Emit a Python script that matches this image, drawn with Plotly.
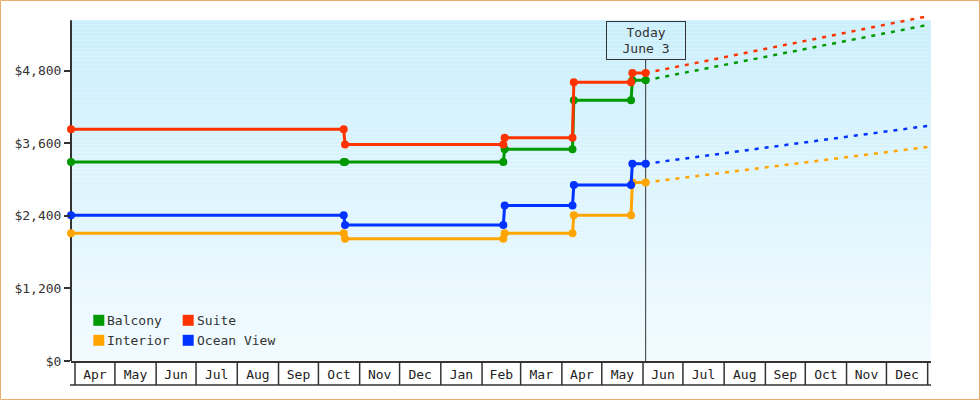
import plotly.graph_objects as go
import pandas as pd

# ---------------- data ----------------
names = ["Balcony", "Suite", "Interior", "Ocean View"]
colors = ["#009900", "#FF3300", "#FFA500", "#0033FF"]

dates = ["2023-03-29", "2023-10-20", "2023-10-21", "2024-02-17", "2024-02-18",
         "2024-04-09", "2024-04-10", "2024-05-23", "2024-05-24", "2024-06-03"]
balcony = [3290, 3290, 3290, 3290, 3500, 3500, 4310, 4310, 4640, 4640]
suite = [3830, 3830, 3580, 3580, 3690, 3690, 4610, 4610, 4760, 4760]
interior = [2110, 2110, 2020, 2020, 2110, 2110, 2410, 2410, 2950, 2950]
ocean_view = [2410, 2410, 2250, 2250, 2570, 2570, 2910, 2910, 3260, 3260]

proj_dates = ["2024-06-03", "2025-01-02"]
balcony_proj = [4640, 5560]
suite_proj = [4760, 5705]
interior_proj = [2950, 3540]
ocean_view_proj = [3260, 3890]

today = "2024-06-03"
today_label = "Today<br>June 3"
month_starts = [d.strftime("%Y-%m-%d") for d in pd.date_range("2023-04-01", "2025-01-01", freq="MS")]
y_ticks = [0, 1200, 2400, 3600, 4800]
y_tick_text = ["$0", "$1,200", "$2,400", "$3,600", "$4,800"]
x_range = ["2023-03-29", "2025-01-03 12:00"]
y_range = [0, 5720]

history = [balcony, suite, interior, ocean_view]
projection = [balcony_proj, suite_proj, interior_proj, ocean_view_proj]

# ---------------- geometry ----------------
W, H = 980, 400
L, R, T, B = 71, 49, 15, 39
PW, PH = W - L - R, H - T - B
BOTTOM = H - B


def px(x):
    return (x - L) / PW


def py(y):
    return (BOTTOM - y) / PH


FONT = "DejaVu Sans Mono"
INK = "#333333"

fig = go.Figure()

for name, col, vals in zip(names, colors, history):
    fig.add_trace(go.Scatter(
        x=dates, y=vals, name=name, mode="lines+markers",
        line=dict(color=col, width=3),
        marker=dict(color=col, size=8, symbol="circle", line=dict(width=0)),
        cliponaxis=False, showlegend=False, hoverinfo="skip"))

for name, col, vals in zip(names, colors, projection):
    fig.add_trace(go.Scatter(
        x=proj_dates, y=vals, name=name + " projection", mode="lines",
        line=dict(color=col, width=2.5, dash="4px,6px"),
        showlegend=False, hoverinfo="skip"))

shapes = []
# gradient background of plot area
top_px, bot_px = 20.3, BOTTOM
c_top = (203, 239, 252)
c_bot = (242, 251, 255)
N = 85
for i in range(N):
    y0 = top_px + (bot_px - top_px) * i / N
    y1 = top_px + (bot_px - top_px) * (i + 1) / N
    t = (i + 0.5) / N
    c = tuple(round(c_top[k] + (c_bot[k] - c_top[k]) * t) for k in range(3))
    shapes.append(dict(type="rect", xref="paper", yref="paper", x0=0, x1=1,
                       y0=py(y1), y1=py(y0) + 0.0005, line=dict(width=0),
                       fillcolor="rgb(%d,%d,%d)" % c, layer="below"))
# y axis line
shapes.append(dict(type="line", xref="paper", yref="paper", x0=0, x1=0,
                   y0=0, y1=py(top_px), line=dict(color=INK, width=2), layer="below"))
# today line
shapes.append(dict(type="line", xref="x", yref="paper", x0=today, x1=today,
                   y0=0, y1=py(59.3), line=dict(color=INK, width=1), layer="below"))
# month boxes under the axis
for m in month_starts:
    shapes.append(dict(type="line", xref="x", yref="paper", x0=m, x1=m,
                       y0=0, y1=py(385), line=dict(color=INK, width=1.5)))
shapes.append(dict(type="line", xref="paper", yref="paper", x0=px(70), x1=1,
                   y0=py(385), y1=py(385), line=dict(color=INK, width=1.5)))
# outer border
shapes.append(dict(type="rect", xref="paper", yref="paper",
                   x0=px(0.5), x1=px(979.5), y0=py(399.5), y1=py(0.5),
                   line=dict(color="#E9AC6B", width=1), fillcolor="rgba(0,0,0,0)"))

annotations = []
# legend (2 x 2)
legend_pos = [(93.3, 320.3), (182.7, 320.3), (93.3, 340.3), (182.7, 340.3)]
for (lx, ly), name, col in zip(legend_pos, names, colors):
    shapes.append(dict(type="rect", xref="paper", yref="paper",
                       x0=px(lx), x1=px(lx + 11), y0=py(ly + 5.5), y1=py(ly - 5.5),
                       line=dict(width=0), fillcolor=col))
    annotations.append(dict(text=name, xref="paper", yref="paper",
                            x=px(lx + 12), y=py(ly), xanchor="left", yanchor="middle",
                            showarrow=False, font=dict(family=FONT, size=13, color=INK)))
# today box
annotations.append(dict(text=today_label, xref="x", yref="paper", x=today, y=py(40),
                        xanchor="center", yanchor="middle", showarrow=False,
                        width=76, height=35, borderpad=1, borderwidth=1,
                        bordercolor=INK, bgcolor="rgba(0,0,0,0)",
                        font=dict(family=FONT, size=13, color=INK)))

fig.update_layout(
    width=W, height=H, margin=dict(l=L, r=R, t=T, b=B, autoexpand=False),
    paper_bgcolor="white", plot_bgcolor="rgba(0,0,0,0)",
    showlegend=False, hovermode=False,
    font=dict(family=FONT, size=13, color=INK),
    shapes=shapes, annotations=annotations,
    xaxis=dict(type="date", range=x_range, showgrid=False, zeroline=False,
               showline=True, linecolor=INK, linewidth=2,
               ticks="", dtick="M1", tick0="2023-04-01", tickformat="%b",
               ticklabelmode="period", tickfont=dict(family=FONT, size=13, color="#222"),
               fixedrange=True),
    yaxis=dict(range=y_range, showgrid=False, zeroline=False, showline=False,
               tickvals=y_ticks, ticktext=y_tick_text,
               ticks="outside", ticklen=6, tickwidth=2, tickcolor=INK,
               tickfont=dict(family=FONT, size=13, color=INK), fixedrange=True),
)

fig.write_html("out.html")
